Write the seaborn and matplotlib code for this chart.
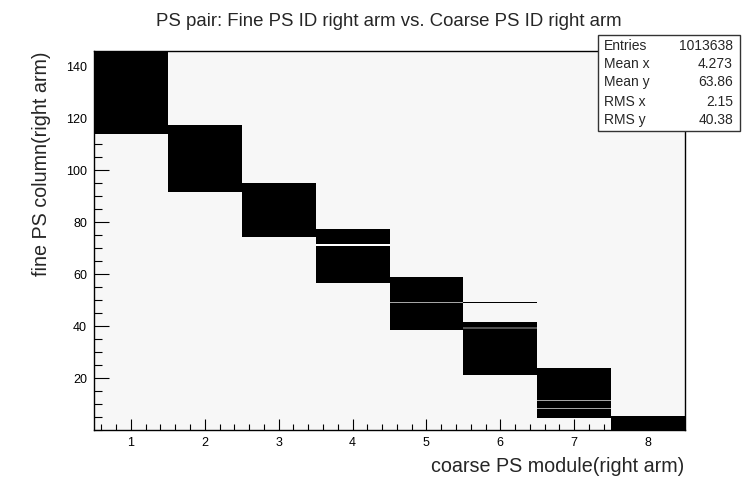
import numpy as np
import pandas as pd
import matplotlib
matplotlib.use("Agg")
import matplotlib.pyplot as plt
from matplotlib.patches import Rectangle
from matplotlib.ticker import MultipleLocator
import seaborn as sns

# Coarse PS module numbers and the fine-column band each one pairs with
modules = [1, 2, 3, 4, 5, 6, 7, 8]
band_low = [114.0, 91.5, 74.5, 56.5, 38.5, 21.0, 4.5, 0.0]
band_high = [146.0, 117.5, 95.0, 77.5, 59.0, 41.5, 24.0, 5.5]

# Relative occupancy of uncorrelated (accidental) pairs
background_level = 0.07

# Fine columns with missing / reduced hits inside a band
weak_module = [4, 5, 6, 7, 7]
weak_column = [71.0, 49.0, 39.0, 11.0, 8.0]
weak_level = [0.0, 0.45, 0.75, 0.45, 0.45]

# Hot fine column outside its correlated band
hot_module = [6]
hot_column = [49.25]

# Statistics box
stat_names = ["Entries", "Mean x", "Mean y", "RMS x", "RMS y"]
stat_values = ["1013638", "4.273", "63.86", "2.15", "40.38"]

title = "PS pair: Fine PS ID right arm vs. Coarse PS ID right arm"
xlabel = "coarse PS module(right arm)"
ylabel = "fine PS column(right arm)"

# ---- occupancy table on a (module, fine column) grid ----
col_width = 0.5
x_edges = np.arange(0.5, 9.0, 1.0)
y_edges = np.arange(0.0, 146.0 + col_width, col_width)
y_centers = y_edges[:-1] + col_width / 2

rows = []
for m, lo, hi in zip(modules, band_low, band_high):
    for c in y_centers:
        rows.append((m, c, 1.0 if lo <= c < hi else background_level))
df = pd.DataFrame(rows, columns=["module", "column", "hits"])

def cell(m, c):
    return (df["module"] == m) & (np.floor(df["column"] / col_width) == np.floor(c / col_width))

for m, c, lv in zip(weak_module, weak_column, weak_level):
    df.loc[cell(m, c), "hits"] = lv
for m, c in zip(hot_module, hot_column):
    df.loc[cell(m, c), "hits"] = 1.0

# ---- drawing ----
sns.set_style("ticks")
plt.rcParams["font.family"] = ["Liberation Sans", "DejaVu Sans"]

W, H = 742, 479
fig = plt.figure(figsize=(W / 100, H / 100), dpi=100)
ax = fig.add_axes([94 / W, 1 - 430 / H, (685 - 94) / W, (430 - 51) / H])

sns.histplot(data=df, x="module", y="column", weights="hits",
             bins=(x_edges, y_edges), cmap="Greys", vmin=0, vmax=1,
             thresh=None, ax=ax, rasterized=True, linewidth=0)

ax.set_axisbelow(False)
ax.set_xlim(0.5, 8.5)
ax.set_ylim(0, 146)
ax.set_xlabel("")
ax.set_ylabel("")

ax.xaxis.set_major_locator(MultipleLocator(1))
ax.xaxis.set_minor_locator(MultipleLocator(0.2))
ax.set_yticks([20, 40, 60, 80, 100, 120, 140])
ax.yaxis.set_minor_locator(MultipleLocator(5))

ax.tick_params(axis="both", which="both", direction="in", colors="black",
               width=0.8, labelsize=9, top=False, right=False)
ax.tick_params(axis="x", which="major", length=8, pad=5)
ax.tick_params(axis="x", which="minor", length=4)
ax.tick_params(axis="y", which="major", length=11, pad=5)
ax.tick_params(axis="y", which="minor", length=5.5)
for s in ax.spines.values():
    s.set_visible(True)
    s.set_color("black")
    s.set_linewidth(1.0)

fig.text(389 / W, 1 - 21 / H, title, ha="center", va="center", fontsize=13.4)
fig.text(684 / W, 1 - 467 / H, xlabel, ha="right", va="center", fontsize=14.2)
fig.text(42 / W, 1 - 52 / H, ylabel, ha="center", va="top", rotation=90,
         fontsize=14.2)

# statistics box
bx0, by0, bx1, by1 = 598, 35, 740, 131
fig.patches.append(Rectangle((bx0 / W, 1 - by1 / H), (bx1 - bx0) / W, (by1 - by0) / H,
                             transform=fig.transFigure, facecolor="white",
                             edgecolor="#333333", linewidth=1.0, zorder=5))
row_y = [46, 64, 82, 102, 120]
for name, val, yy in zip(stat_names, stat_values, row_y):
    fig.text(604 / W, 1 - yy / H, name, ha="left", va="center", fontsize=10, zorder=6)
    fig.text(733 / W, 1 - yy / H, val, ha="right", va="center", fontsize=10, zorder=6)

fig.savefig("out.png", dpi=100)
